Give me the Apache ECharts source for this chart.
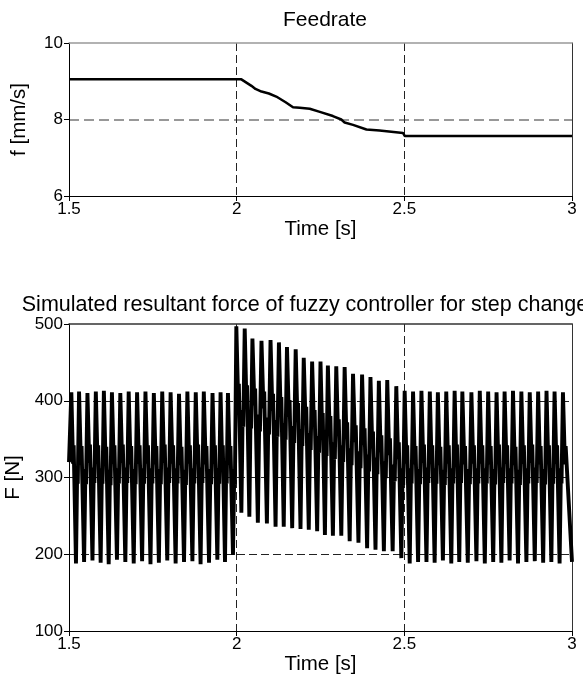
<!DOCTYPE html>
<html>
<head>
<meta charset="utf-8">
<script src="https://cdn.jsdelivr.net/npm/echarts@6/dist/echarts.min.js"></script>
<style>
  html, body { margin: 0; padding: 0; background: #fff; }
  #chart { width: 583px; height: 682px; }
</style>
</head>
<body>
<div id="chart"></div>
<script>
// feedrate curve
const feedTimes = [1.5, 2.014, 2.044, 2.056, 2.074, 2.096, 2.118, 2.146, 2.168, 2.188, 2.218, 2.248, 2.287, 2.312, 2.322, 2.347, 2.387, 2.426, 2.496, 2.501, 3.0];
const feedVals  = [9.05, 9.05, 8.88, 8.80, 8.73, 8.68, 8.60, 8.45, 8.32, 8.31, 8.28, 8.20, 8.09, 8.00, 7.92, 7.86, 7.74, 7.71, 7.65, 7.57, 7.57];

// force oscillation: one entry per cycle
const peakTimes = [
  1.507, 1.530, 1.555, 1.580, 1.604, 1.628, 1.653, 1.678, 1.703, 1.728, 1.753, 1.778, 1.803, 1.828, 1.853, 1.878, 1.902, 1.928, 1.952, 1.974,
  1.999, 2.024, 2.047, 2.074, 2.101, 2.126, 2.150, 2.176, 2.200, 2.225, 2.250, 2.272, 2.297, 2.322, 2.347, 2.374, 2.399, 2.424, 2.449, 2.476,
  2.501, 2.526, 2.551, 2.576, 2.600, 2.625, 2.650, 2.673, 2.700, 2.725, 2.750, 2.775, 2.799, 2.824, 2.849, 2.874, 2.899, 2.924, 2.948, 2.973
];
const peakVals = [
  411, 412, 410, 412, 413, 411, 410, 412, 411, 412, 410, 412, 411, 409, 412, 411, 412, 410, 411, 410,
  497, 494, 481, 478, 479, 476, 470, 467, 456, 451, 451, 446, 445, 444, 435, 434, 431, 426, 427, 419,
  413, 412, 413, 412, 411, 412, 413, 412, 411, 413, 412, 411, 412, 413, 412, 411, 412, 413, 412, 411
];
const troughVals = [
  188, 190, 192, 189, 187, 193, 190, 188, 191, 187, 189, 192, 188, 190, 191, 187, 189, 193, 190, 199,
  254, 249, 241, 240, 236, 236, 234, 233, 232, 230, 225, 224, 224, 217, 215, 208, 206, 204, 204, 195,
  188, 190, 190, 189, 192, 188, 190, 189, 191, 188, 190, 189, 192, 188, 190, 191, 189, 190, 188, 190
];
// wiggle on the falling stroke (low, then high)
const downLo = [
  318, 317, 319, 318, 316, 318, 319, 317, 318, 318, 317, 319, 318, 316, 318, 319, 317, 318, 318, 317,
  400, 398, 394, 390, 387, 383, 379, 375, 370, 366, 362, 358, 354, 350, 346, 342, 338, 333, 329, 324,
  318, 317, 319, 318, 316, 318, 319, 317, 318, 318, 317, 319, 318, 316, 318, 319, 317, 318, 318, 317
];
const downHi = [
  342, 341, 343, 342, 340, 342, 343, 341, 342, 342, 341, 343, 342, 340, 342, 343, 341, 342, 342, 341,
  422, 420, 416, 412, 409, 405, 401, 397, 392, 388, 384, 380, 376, 372, 368, 364, 360, 355, 351, 346,
  342, 341, 343, 342, 340, 342, 343, 341, 342, 342, 341, 343, 342, 340, 342, 343, 341, 342, 342, 341
];
// wiggle on the rising stroke (high, then low)
const upHi = [
  312, 311, 313, 312, 310, 312, 313, 311, 312, 312, 311, 313, 312, 310, 312, 313, 311, 312, 312, 311,
  388, 386, 382, 378, 375, 371, 367, 363, 358, 354, 350, 346, 342, 338, 334, 330, 326, 321, 317, 312,
  312, 311, 313, 312, 310, 312, 313, 311, 312, 312, 311, 313, 312, 310, 312, 313, 311, 312, 312, 311
];
const upLo = [
  292, 291, 293, 292, 290, 292, 293, 291, 292, 292, 291, 293, 292, 290, 292, 293, 291, 292, 292, 291,
  366, 364, 360, 356, 353, 349, 345, 341, 336, 332, 328, 324, 320, 316, 312, 308, 304, 299, 295, 290,
  292, 291, 293, 292, 290, 292, 293, 291, 292, 292, 291, 293, 292, 290, 292, 293, 291, 292, 292, 291
];

const chart = echarts.init(document.getElementById('chart'), null, { renderer: 'canvas' });

const feedData = feedTimes.map((t, i) => [t, feedVals[i]]);

// build the force trace cycle by cycle from the arrays above
const forceData = [[1.5, 320]];
for (let i = 0; i < peakTimes.length; i++) {
  const t0 = peakTimes[i];
  const last = i === peakTimes.length - 1;
  const d = (last ? 3.0 : peakTimes[i + 1]) - t0;
  forceData.push([t0, peakVals[i]]);
  forceData.push([t0 + 0.22 * d, downLo[i]]);
  forceData.push([t0 + 0.30 * d, downHi[i]]);
  if (last) {
    forceData.push([3.0, troughVals[i]]);
  } else {
    forceData.push([t0 + 0.6 * d, troughVals[i]]);
    forceData.push([t0 + 0.76 * d, upHi[i]]);
    forceData.push([t0 + 0.83 * d, upLo[i]]);
  }
}

const FONT = 'Liberation Sans, Arial, sans-serif';

function bottomX(gridIndex) {
  return {
    gridIndex: gridIndex, type: 'value', min: 1.5, max: 3, interval: 0.5,
    name: 'Time [s]', nameLocation: 'middle', nameGap: 22,
    nameTextStyle: { fontFamily: FONT, fontSize: 20.5, color: '#000' },
    axisLine: { show: true, onZero: false, lineStyle: { color: '#000', width: 1 } },
    axisTick: { show: true, length: 5, lineStyle: { color: '#000' } },
    axisLabel: { fontFamily: FONT, fontSize: 17, color: '#000', margin: 5,
      formatter: v => String(v) },
    splitLine: { show: true, showMinLine: false, showMaxLine: false,
      lineStyle: { color: '#222', type: [8, 4], width: 1 } }
  };
}

function topX(gridIndex, color) {
  return {
    gridIndex: gridIndex, type: 'value', min: 1.5, max: 3, position: 'top',
    axisLine: { show: true, onZero: false, lineStyle: { color: color, width: 1.5 } },
    axisTick: { show: false }, axisLabel: { show: false }, splitLine: { show: false }
  };
}

function rightY(gridIndex, min, max) {
  return {
    gridIndex: gridIndex, type: 'value', min: min, max: max, position: 'right',
    axisLine: { show: true, onZero: false, lineStyle: { color: '#333', width: 1 } },
    axisTick: { show: false }, axisLabel: { show: false }, splitLine: { show: false }
  };
}

const option = {
  backgroundColor: '#fff',
  animation: false,
  title: [
    { text: 'Feedrate', left: 320, top: 5, textAlign: 'center',
      textStyle: { fontFamily: FONT, fontSize: 21, fontWeight: 'normal', color: '#000' } },
    { text: 'Simulated resultant force of fuzzy controller for step change', left: 300, top: 289, textAlign: 'center',
      textStyle: { fontFamily: FONT, fontSize: 21.5, fontWeight: 'normal', color: '#000' } }
  ],
  grid: [
    { left: 69, right: 11, top: 43, height: 153, containLabel: false, outerBoundsMode: 'none' },
    { left: 69, right: 11, top: 324, height: 307, containLabel: false, outerBoundsMode: 'none' }
  ],
  xAxis: [bottomX(0), topX(0, '#999'), bottomX(1), topX(1, '#333')],
  yAxis: [
    {
      gridIndex: 0, type: 'value', min: 6, max: 10, interval: 2,
      name: 'f [mm/s]', nameLocation: 'middle', nameGap: 39,
      nameTextStyle: { fontFamily: FONT, fontSize: 20.5, color: '#000' },
      axisLine: { show: true, onZero: false, lineStyle: { color: '#000', width: 1 } },
      axisTick: { show: true, length: 5, lineStyle: { color: '#000' } },
      axisLabel: { fontFamily: FONT, fontSize: 17, color: '#000', margin: 6 },
      splitLine: { show: true, showMinLine: false, showMaxLine: false,
        lineStyle: { color: '#777', type: [10, 5], width: 1.5 } }
    },
    rightY(0, 6, 10),
    {
      gridIndex: 1, type: 'value', min: 100, max: 500, interval: 100,
      name: 'F [N]', nameLocation: 'middle', nameGap: 35,
      nameTextStyle: { fontFamily: FONT, fontSize: 20.5, color: '#000' },
      axisLine: { show: true, onZero: false, lineStyle: { color: '#000', width: 1 } },
      axisTick: { show: true, length: 5, lineStyle: { color: '#000' } },
      axisLabel: { fontFamily: FONT, fontSize: 17, color: '#000', margin: 6 },
      splitLine: { show: true, showMinLine: false, showMaxLine: false,
        lineStyle: { color: '#222', type: [8, 4], width: 1 } }
    },
    rightY(1, 100, 500)
  ],
  series: [
    {
      name: 'Feedrate', type: 'line', xAxisIndex: 0, yAxisIndex: 0,
      data: feedData, showSymbol: false, silent: true,
      lineStyle: { color: '#000', width: 2.5 }
    },
    {
      name: 'Force', type: 'line', xAxisIndex: 2, yAxisIndex: 2,
      data: forceData, showSymbol: false, silent: true,
      lineStyle: { color: '#000', width: 3.9, join: 'miter' }
    }
  ]
};

chart.setOption(option);
</script>
</body>
</html>
